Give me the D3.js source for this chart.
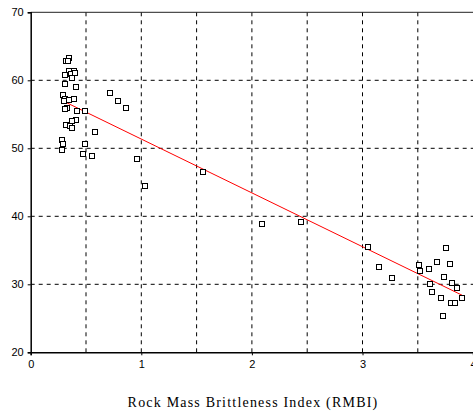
<!DOCTYPE html>
<html>
<head>
<meta charset="utf-8">
<script src="https://cdn.jsdelivr.net/npm/d3@7/dist/d3.min.js"></script>
<style>
  body { margin: 0; background: #fff; }
  svg { display: block; }
</style>
</head>
<body>
<div id="chart_container"></div>
<script>
var rmbi = [0.349, 0.322, 0.337, 0.349, 0.391, 0.364, 0.403, 0.310, 0.371, 0.310,
            0.411, 0.717, 0.787, 0.859, 0.288, 0.306, 0.392, 0.346, 0.301, 0.331,
            0.310, 0.419, 0.493, 0.410, 0.371, 0.315, 0.351, 0.369, 0.581, 0.283,
            0.292, 0.493, 0.280, 0.473, 0.554, 0.957, 1.031, 1.555, 2.094, 2.447,
            3.052, 3.149, 3.269, 3.515, 3.524, 3.599, 3.606, 3.626, 3.675, 3.755,
            3.787, 3.734, 3.807, 3.856, 3.707, 3.898, 3.804, 3.839, 3.725];
var value = [63.3, 62.9, 62.8, 61.3, 61.4, 61.0, 61.1, 60.8, 60.4, 59.5,
             59.0, 58.1, 57.0, 56.0, 57.8, 57.3, 57.3, 57.1, 56.9, 56.0,
             55.8, 55.5, 55.5, 54.2, 54.0, 53.4, 53.3, 53.0, 52.4, 51.2,
             50.6, 50.6, 49.7, 49.1, 48.9, 48.4, 44.5, 46.5, 38.9, 39.1,
             35.5, 32.6, 31.0, 32.8, 31.9, 32.2, 30.0, 28.9, 33.3, 35.3,
             33.0, 31.1, 30.2, 29.5, 28.0, 28.0, 27.2, 27.2, 25.3];

// fitted trend line ends
var trendX = [0.30, 3.90];
var trendY = [56.9, 28.4];

var xTicks = [0, 1, 2, 3, 4];
var xGrid = [0.5, 1, 1.5, 2, 2.5, 3, 3.5];
var yTicks = [20, 30, 40, 50, 60, 70];
var yGrid = [30, 40, 50, 60];

var width = 473, height = 414;
var marginLeft = 30.7, marginTop = 12.3, plotW = 442.4, plotH = 340;

var svg = d3.select("#chart_container").append("svg")
    .attr("width", width)
    .attr("height", height);

var x = d3.scaleLinear().domain([0, 4]).range([marginLeft, marginLeft + plotW]);
var y = d3.scaleLinear().domain([20, 70]).range([marginTop + plotH, marginTop]);

var grid = svg.append("g").attr("id", "grid");

grid.selectAll("line.vg")
    .data(xGrid)
    .enter().append("line")
    .attr("class", "vg")
    .attr("x1", function(d) { return x(d); })
    .attr("x2", function(d) { return x(d); })
    .attr("y1", y(70))
    .attr("y2", y(20))
    .attr("stroke", "#000")
    .attr("stroke-width", 1)
    .attr("stroke-dasharray", "4,4");

grid.selectAll("line.hg")
    .data(yGrid)
    .enter().append("line")
    .attr("class", "hg")
    .attr("x1", x(0))
    .attr("x2", x(4))
    .attr("y1", function(d) { return y(d); })
    .attr("y2", function(d) { return y(d); })
    .attr("stroke", "#000")
    .attr("stroke-width", 1)
    .attr("stroke-dasharray", "4,4");

// frame: top border
svg.append("line")
    .attr("x1", x(0)).attr("x2", x(4))
    .attr("y1", y(70)).attr("y2", y(70))
    .attr("stroke", "#222")
    .attr("stroke-width", 1);

var xAxis = svg.append("g")
    .attr("transform", "translate(0," + y(20) + ")")
    .call(d3.axisBottom(x).tickValues(xTicks).tickSize(3).tickPadding(5).tickFormat(d3.format("d")));

var yAxis = svg.append("g")
    .attr("transform", "translate(" + x(0) + ",0)")
    .call(d3.axisLeft(y).tickValues(yTicks).tickSize(3).tickPadding(4).tickFormat(d3.format("d")));

[xAxis, yAxis].forEach(function(a) {
    a.select(".domain").attr("stroke", "#000").attr("stroke-width", 1.5);
    a.selectAll(".tick line").attr("stroke", "#000");
    a.selectAll(".tick text")
        .attr("fill", "#000")
        .style("font-family", "'Liberation Sans', Arial, sans-serif")
        .style("font-size", "11px");
});

// trend line
svg.append("path")
    .datum(d3.range(trendX.length))
    .attr("d", d3.line()
        .x(function(i) { return x(trendX[i]); })
        .y(function(i) { return y(trendY[i]); }))
    .attr("fill", "none")
    .attr("stroke", "#ff0000")
    .attr("stroke-width", 1);

// points
svg.append("g").attr("id", "points")
    .selectAll("rect")
    .data(d3.range(rmbi.length))
    .enter().append("rect")
    .attr("x", function(i) { return Math.round(x(rmbi[i])) - 2.5; })
    .attr("y", function(i) { return Math.round(y(value[i])) - 2.5; })
    .attr("width", 5)
    .attr("height", 5)
    .attr("fill", "#fff")
    .attr("stroke", "#000")
    .attr("stroke-width", 1);

svg.append("text")
    .attr("x", 253)
    .attr("y", 407)
    .attr("text-anchor", "middle")
    .style("font-family", "'Liberation Serif', 'Times New Roman', serif")
    .style("font-size", "14px")
    .style("letter-spacing", "1.2px")
    .text("Rock Mass Brittleness Index (RMBI)");
</script>
</body>
</html>
